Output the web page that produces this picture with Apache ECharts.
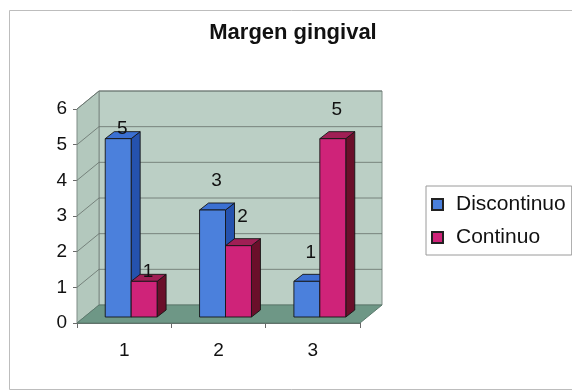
<!DOCTYPE html>
<html><head><meta charset="utf-8">
<script src="https://cdn.jsdelivr.net/npm/echarts@6/dist/echarts.min.js"></script>
<style>html,body{margin:0;padding:0;background:#fff}#c{width:572px;height:391px}</style>
</head><body><div id="c"></div>
<script>
// ---- data ----
const categories = ['1', '2', '3'];
const seriesNames = ['Discontinuo', 'Continuo'];
const discontinuo = [5, 3, 1];
const continuo = [1, 2, 5];
const yTicks = [0, 1, 2, 3, 4, 5, 6];

// ---- styling / 3D look ----
const DEPTH = [22, -18];      // wall depth offset (px)
const BAR_FRONT = [7, -6];    // bar front face offset from front plane
const BAR_DEPTH = [9, -7];    // bar depth
const BAR_W = 0.275;          // bar width as fraction of band
const LABEL_RISE = [10, 29, 29];
const FONT = '"Liberation Sans", Arial, sans-serif';
const palettes = [
  {front: '#4b80dc', top: '#3b70d2', side: '#2552ae'},
  {front: '#cf2379', top: '#a01f55', side: '#6a0f2a'}
];

function makeBarRender(sIdx) {
  const pal = palettes[sIdx];
  return function (params, api) {
    const ci = api.value(0), v = api.value(1);
    const base = api.coord([ci, 0]);
    const top = api.coord([ci, v]);
    const band = api.size([1, 0])[0];
    const w = band * BAR_W;
    const x0 = base[0] + (sIdx === 0 ? -w : 0) + BAR_FRONT[0];
    const x1 = x0 + w;
    const yb = base[1] + BAR_FRONT[1];
    const yt = top[1] + BAR_FRONT[1];
    const dx = BAR_DEPTH[0], dy = BAR_DEPTH[1];
    const ls = {stroke: '#151515', lineWidth: 0.9, lineJoin: 'round'};
    return {type: 'group', children: [
      {type: 'polygon', shape: {points: [[x1, yb], [x1 + dx, yb + dy], [x1 + dx, yt + dy], [x1, yt]]}, style: Object.assign({fill: pal.side}, ls)},
      {type: 'polygon', shape: {points: [[x0, yt], [x1, yt], [x1 + dx, yt + dy], [x0 + dx, yt + dy]]}, style: Object.assign({fill: pal.top}, ls)},
      {type: 'rect', shape: {x: x0, y: yt, width: w, height: yb - yt}, style: Object.assign({fill: pal.front}, ls)},
      {type: 'text', z2: 100, style: {text: String(v), x: (x0 + x1) / 2 + 4, y: yt - LABEL_RISE[ci], align: 'center', verticalAlign: 'middle', font: '19px ' + FONT, fill: '#111'}}
    ]};
  };
}

function renderWalls(params, api) {
  const cs = params.coordSys;
  const L = cs.x, R = cs.x + cs.width, T = cs.y, B = cs.y + cs.height;
  const dx = DEPTH[0], dy = DEPTH[1];
  const edge = '#7f8c86';
  const ch = [];
  ch.push({type: 'rect', shape: {x: L + dx, y: T + dy, width: cs.width, height: cs.height}, style: {fill: '#bbcfc5', stroke: edge, lineWidth: 1}});
  ch.push({type: 'polygon', shape: {points: [[L, B], [L, T], [L + dx, T + dy], [L + dx, B + dy]]}, style: {fill: '#b3c8bd', stroke: edge, lineWidth: 1}});
  yTicks.forEach(function (t) {
    if (t === 0) return;
    const y = api.coord([0, t])[1];
    ch.push({type: 'line', shape: {x1: L, y1: y, x2: L + dx, y2: y + dy}, style: {stroke: '#66706b', lineWidth: 0.8}});
    ch.push({type: 'line', shape: {x1: L + dx, y1: y + dy, x2: R + dx, y2: y + dy}, style: {stroke: '#66706b', lineWidth: 0.8}});
  });
  ch.push({type: 'polygon', shape: {points: [[L, B], [R, B], [R + dx, B + dy], [L + dx, B + dy]]}, style: {fill: '#6e9786', stroke: '#5b7a6d', lineWidth: 1}});
  return {type: 'group', children: ch};
}

const chart = echarts.init(document.getElementById('c'), null, {renderer: 'canvas'});
chart.setOption({
  backgroundColor: '#ffffff',
  animation: false,
  title: {
    text: 'Margen gingival', left: 293, top: 22, textAlign: 'center', padding: 0,
    textStyle: {fontFamily: FONT, fontSize: 22, fontWeight: 'bold', color: '#111'}
  },
  legend: {
    orient: 'vertical', left: 426, top: 186,
    data: seriesNames,
    borderColor: '#9a9a9a', borderWidth: 1, padding: [8, 6, 7, 5],
    itemWidth: 11, itemHeight: 11, itemGap: 12, icon: 'rect',
    textStyle: {fontFamily: FONT, fontSize: 21, color: '#111', padding: [0, 0, 0, 8]}
  },
  graphic: [{type: 'rect', left: 7, top: 8, shape: {width: 600, height: 379}, style: {fill: 'none', stroke: '#bdbdbd', lineWidth: 1}, silent: true}],
  grid: {left: 77, right: 212, top: 109, bottom: 68},
  xAxis: {
    type: 'category', data: categories,
    axisLine: {show: true, lineStyle: {color: '#6a6a6a', width: 1}},
    axisTick: {show: true, length: 5, lineStyle: {color: '#6a6a6a'}},
    axisLabel: {fontFamily: FONT, fontSize: 19, color: '#111', margin: 18},
    splitLine: {show: false}
  },
  yAxis: {
    type: 'value', min: 0, max: 6, interval: 1,
    axisLine: {show: true, lineStyle: {color: '#6a6a6a', width: 1}},
    axisTick: {show: true, length: 4, lineStyle: {color: '#6a6a6a'}},
    axisLabel: {fontFamily: FONT, fontSize: 19, color: '#111', margin: 10},
    splitLine: {show: false}
  },
  series: [
    {type: 'custom', name: 'walls', silent: true, z: 1, renderItem: renderWalls, data: [[0, 0]], encode: {x: 0, y: 1}},
    {type: 'custom', name: seriesNames[0], z: 2, renderItem: makeBarRender(0),
      itemStyle: {color: palettes[0].front, borderColor: '#222', borderWidth: 1},
      data: discontinuo.map(function (v, i) { return [i, v]; }), encode: {x: 0, y: 1}},
    {type: 'custom', name: seriesNames[1], z: 2, renderItem: makeBarRender(1),
      itemStyle: {color: palettes[1].front, borderColor: '#222', borderWidth: 1},
      data: continuo.map(function (v, i) { return [i, v]; }), encode: {x: 0, y: 1}}
  ]
});
</script></body></html>
